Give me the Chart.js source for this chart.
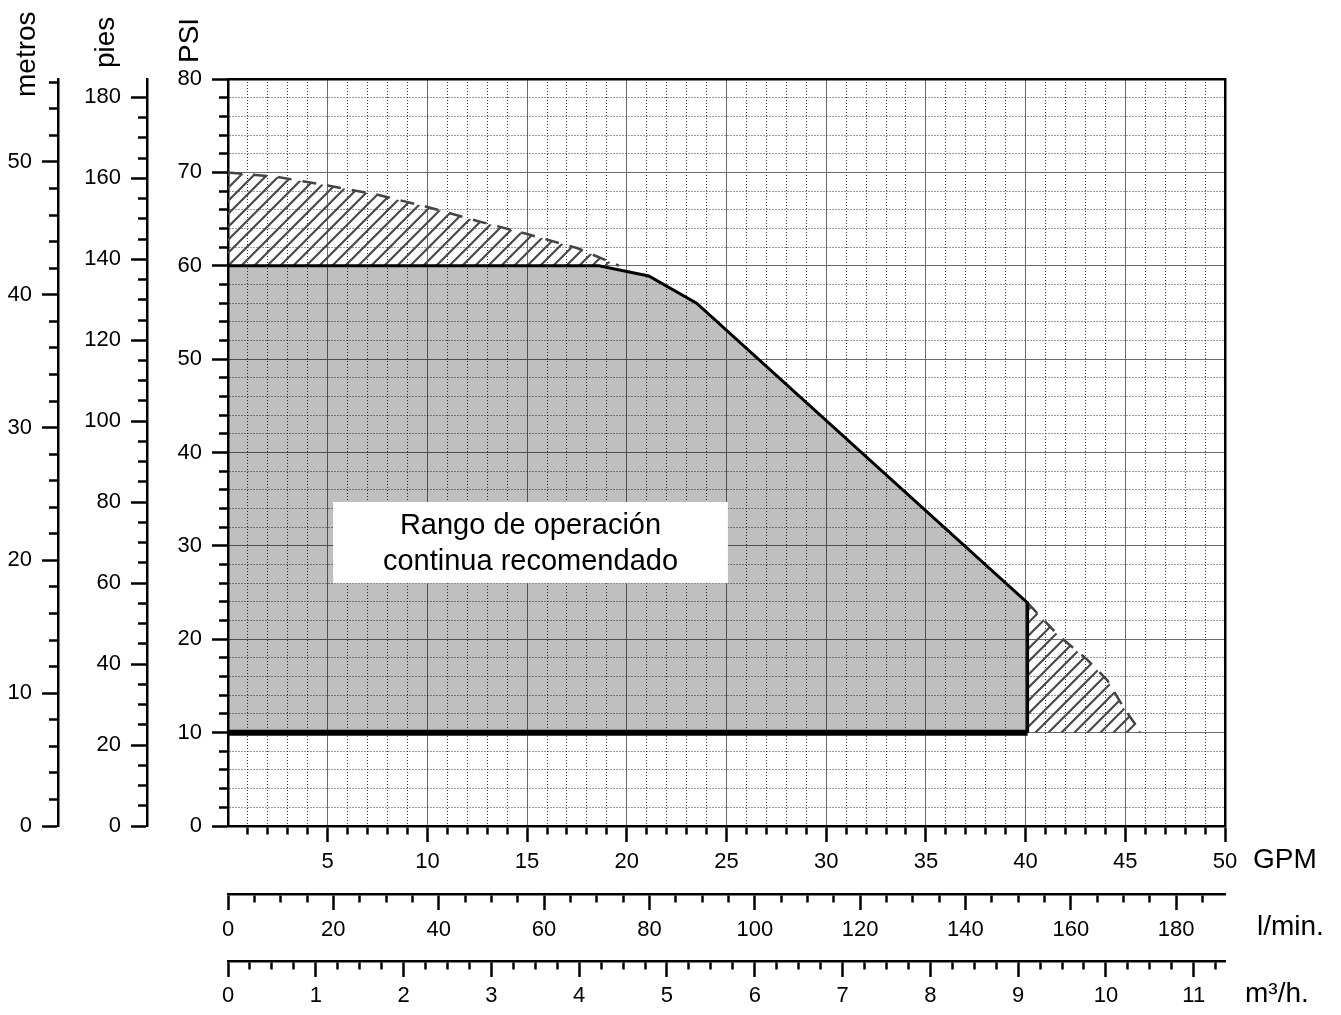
<!DOCTYPE html>
<html>
<head>
<meta charset="utf-8">
<title>Rango de operación</title>
<script src="https://cdn.jsdelivr.net/npm/chart.js@4.4.1/dist/chart.umd.min.js"></script>
<style>
  html, body { margin: 0; padding: 0; background: #fff; }
  #wrap { width: 1341px; height: 1015px; }
</style>
</head>
<body>
<div id="wrap"><canvas id="rangeChart" width="1341" height="1015"></canvas></div>
<script>
// recommended continuous range (GPM / PSI)
var gpmRange = [0, 18.6, 21.1, 23.5, 40.1, 40.1]
var psiRange = [60, 60, 58.9, 56.0, 23.9, 10]
// hatched zone above the range
var gpmUpper = [0, 2.5, 5, 7.5, 10, 12.5, 15, 17.5, 19.6]
var psiUpper = [70, 69.5, 68.6, 67.6, 66.3, 64.8, 63.4, 61.9, 60]
// hatched zone right of the range
var gpmRight = [40.1, 41.6, 43.1, 44.1, 45, 45.8]
var psiRight = [23.9, 20.5, 17.8, 15.6, 12.4, 10]
// minimum pressure line
var gpmMin = [0, 40.1]
var psiMin = [10, 10]

var boxLines = ["Rango de operación", "continua recomendado"]
var unitNames = ["metros", "pies", "PSI", "GPM", "l/min.", "m\u00b3/h."]

// axis ranges and unit conversions
var gpmMax = 50, psiMax = 80
var ftPerPsi = 2.3067, mPerPsi = 0.70307
var lpmPerGpm = 3.78541, m3hPerGpm = 0.227125

var FONT = "'Liberation Sans', Arial, Helvetica, sans-serif"
Chart.defaults.font.family = FONT
Chart.defaults.color = "#000"

function pts(xs, ys) {
    return xs.map((x, i) => ({ x: x, y: ys[i] }))
}

function isStep(v, s) {
    return Math.abs(v / s - Math.round(v / s)) < 1e-6
}

// one linear axis: minor ticks every step, labelled ticks every major
function axis(pos, max, step, major, size, pad, showZero, onArea, weight) {
    var vertical = pos === "left"
    return {
        type: "linear", position: pos, min: 0, max: max, bounds: "data", weight: weight,
        afterFit: function (s) { if (vertical) s.width = size; else s.height = size },
        border: {
            color: "#000", width: 2.5,
            dash: function (c) { return c.tick && !isStep(c.tick.value, major) ? [1, 2] : [] }
        },
        grid: {
            drawOnChartArea: onArea,
            color: function (c) {
                if (!c.tick) return "#000"
                var v = c.tick.value
                if (v <= 0 || v >= max) return "rgba(0,0,0,0)"
                return isStep(v, major) ? "#6a6a6a" : "#333"
            },
            lineWidth: 1,
            tickLength: 16,
            tickWidth: 2.5,
            tickColor: function (c) {
                return (c.tick && c.tick.value === 0 && !showZero) ? "rgba(0,0,0,0)" : "#000"
            },
            tickBorderDash: function (c) {
                if (!c.tick || isStep(c.tick.value, major)) return []
                return vertical ? [0, 7, 40, 0] : [7, 40]
            }
        },
        ticks: {
            stepSize: step, autoSkip: false, includeBounds: false, maxRotation: 0, minRotation: 0,
            padding: pad, color: "#000", font: { size: 22 },
            callback: function (v) { return isStep(v, major) && (v !== 0 || showZero) ? String(v) : "" }
        }
    }
}

var notes = {
    id: "notes",
    afterDatasetsDraw: function (chart) {
        var ctx = chart.ctx, x = chart.scales.x, y = chart.scales.y
        var l = x.getPixelForValue(5.27), r = x.getPixelForValue(25.07)
        var t = y.getPixelForValue(34.7), b = y.getPixelForValue(26.0)
        ctx.save()
        ctx.fillStyle = "#fff"
        ctx.fillRect(l, t, r - l, b - t)
        ctx.fillStyle = "#000"
        ctx.font = "29px " + FONT
        ctx.textAlign = "center"
        ctx.textBaseline = "alphabetic"
        ctx.fillText(boxLines[0], (l + r) / 2, y.getPixelForValue(31.3))
        ctx.fillText(boxLines[1], (l + r) / 2, y.getPixelForValue(27.45))
        ctx.restore()
    },
    afterDraw: function (chart) {
        var ctx = chart.ctx, s = chart.scales, top = chart.chartArea.top, right = chart.chartArea.right
        ctx.save()
        ctx.fillStyle = "#000"
        ctx.font = "28px " + FONT
        ctx.textBaseline = "alphabetic"
        ctx.textAlign = "left"
        // vertical unit names, reading upwards
        var side = [[s.yM.right - 23, top + 18], [s.yP.right - 33, top - 11], [s.y.right - 30, top - 16]]
        side.forEach((p, i) => {
            ctx.save()
            ctx.translate(p[0], p[1])
            ctx.rotate(-Math.PI / 2)
            ctx.fillText(unitNames[i], 0, 0)
            ctx.restore()
        })
        ctx.fillText(unitNames[3], right + 28, s.x.top + 42)
        ctx.fillText(unitNames[4], right + 32, s.xL.top + 41)
        ctx.fillText(unitNames[5], right + 20, s.xM.top + 41)
        ctx.restore()
    }
}

// diagonal hatch for the intermittent zones
var pattern = (function () {
    var n = 13
    var c = document.createElement("canvas")
    c.width = n
    c.height = n
    var g = c.getContext("2d")
    g.strokeStyle = "#4a4a4a"
    g.lineWidth = 2.2
    g.beginPath()
    g.moveTo(0, n); g.lineTo(n, 0)
    g.moveTo(-3, 3); g.lineTo(3, -3)
    g.moveTo(n - 3, n + 3); g.lineTo(n + 3, n - 3)
    g.stroke()
    return g.createPattern(c, "repeat")
})()

var scales = {
    x: axis("bottom", gpmMax, 1, 5, 68, 7, false, true, 1),
    xL: axis("bottom", gpmMax * lpmPerGpm, 5, 20, 67, 7, true, false, 2),
    xM: axis("bottom", gpmMax * m3hPerGpm, 0.25, 1, 54, 6, true, false, 3),
    y: axis("left", psiMax, 2, 10, 81, 10, true, true, 1),
    yP: axis("left", psiMax * ftPerPsi, 5, 20, 89, 10, true, false, 2),
    yM: axis("left", psiMax * mPerPsi, 2, 10, 58, 10, true, false, 3),
    xTop: {
        type: "linear", position: "top", min: 0, max: gpmMax,
        grid: { display: false }, ticks: { display: false },
        border: { color: "#000", width: 2.5 },
        afterFit: function (s) { s.height = 0 }
    },
    yRight: {
        type: "linear", position: "right", min: 0, max: psiMax,
        grid: { display: false }, ticks: { display: false },
        border: { color: "#000", width: 2.5 },
        afterFit: function (s) { s.width = 0 }
    }
}

new Chart(document.getElementById("rangeChart"), {
    type: "line",
    data: {
        datasets: [
            {
                label: "minimo", data: pts(gpmMin, psiMin), borderColor: "#000", borderWidth: 6,
                borderCapStyle: "butt", pointRadius: 0, fill: false, order: 1
            },
            {
                label: "rango", data: pts(gpmRange, psiRange), borderColor: "#000", borderWidth: 3,
                backgroundColor: "rgba(0,0,0,0.25)", fill: { value: 10 }, pointRadius: 0, order: 2
            },
            {
                label: "arriba", data: pts(gpmUpper, psiUpper), borderColor: "#444", borderWidth: 2.5,
                borderDash: [14, 11], backgroundColor: pattern, fill: { value: 60 }, pointRadius: 0, order: 3
            },
            {
                label: "derecha", data: pts(gpmRight, psiRight), borderColor: "#444", borderWidth: 2.5,
                borderDash: [14, 11], backgroundColor: pattern, fill: { value: 10 }, pointRadius: 0, order: 3
            }
        ]
    },
    options: {
        responsive: false,
        devicePixelRatio: 1,
        animation: false,
        layout: { padding: { left: 0, right: 116, top: 79, bottom: 0 } },
        plugins: { legend: { display: false }, tooltip: { enabled: false } },
        elements: { line: { tension: 0 } },
        scales: scales
    },
    plugins: [notes]
})
</script>
</body>
</html>
